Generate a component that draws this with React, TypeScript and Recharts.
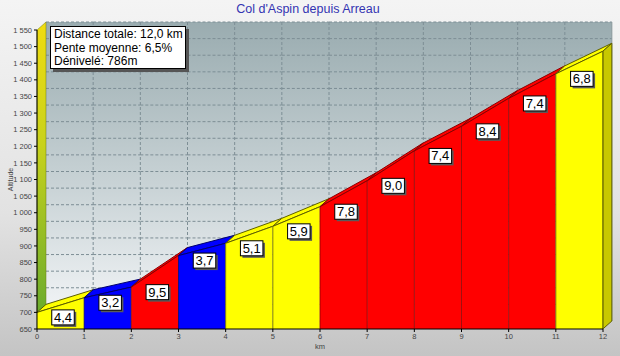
import React from "react";
import { ComposedChart, Bar, XAxis, YAxis } from "recharts";

const chartTitle = "Col d'Aspin depuis Arreau";
const summaryLines = ["Distance totale: 12,0 km", "Pente moyenne: 6,5%", "Dénivelé: 786m"];

const kmMarks = [0, 1, 2, 3, 4, 5, 6, 7, 8, 9, 10, 11, 12];
const altitudes = [700, 744, 776, 871, 908, 959, 1018, 1096, 1186, 1260, 1344, 1418, 1486];
const grades = [4.4, 3.2, 9.5, 3.7, 5.1, 5.9, 7.8, 9.0, 7.4, 8.4, 7.4, 6.8];
const altTicks = [650, 700, 750, 800, 850, 900, 950, 1000, 1050, 1100, 1150, 1200, 1250, 1300, 1350, 1400, 1450, 1500, 1550];

const segments = grades.map((g, i) => ({
  mid: (kmMarks[i] + kmMarks[i + 1]) / 2,
  start: altitudes[i],
  end: altitudes[i + 1],
  grade: g,
}));

// 3D depth of the profile (pixels)
const DX = 9;
const DY = -8;
const FONT = "'Liberation Sans', Arial, sans-serif";

const colorOf = (g: number) =>
  g < 4 ? { fill: "#0000ff", dark: "#00006e" } : g < 7 ? { fill: "#ffff00", dark: "#5e5e00" } : { fill: "#ff0000", dark: "#8a0000" };

const fmtAlt = (v: number) => (v >= 1000 ? `${Math.floor(v / 1000)}\u00a0${String(v % 1000).padStart(3, "0")}` : String(v));
const fmtGrade = (g: number) => g.toFixed(1).replace(".", ",");

const AltTick = (props: any) => {
  const { x, y, payload } = props;
  return (
    <text x={x} y={y} dy="0.35em" textAnchor="end" fontSize={7.5} fill="#444" fontFamily={FONT}>
      {fmtAlt(payload.value)}
    </text>
  );
};

const BackWall = (props: any) => {
  const { x, y, width, height } = props;
  const index = props.index ?? segments.indexOf(props.payload);
  const last = index === segments.length - 1;
  const bx = x + DX;
  const by = y + DY;
  const lo = altTicks[0];
  const hi = altTicks[altTicks.length - 1];
  return (
    <g>
      <rect x={bx} y={by} width={width + (last ? 0 : 1)} height={height} fill="url(#wallGrad)" />
      {altTicks.map((v) => {
        const gy = by + height * (1 - (v - lo) / (hi - lo));
        return <line key={v} x1={bx} x2={bx + width} y1={gy} y2={gy} stroke="#7d8e95" strokeDasharray="3 2" strokeWidth={1} />;
      })}
      {index > 0 && <line x1={bx} x2={bx} y1={by} y2={by + height} stroke="#7d8e95" strokeDasharray="3 2" strokeWidth={1} />}
      {last && <line x1={bx + width} x2={bx + width} y1={by} y2={by + height} stroke="#8a989c" strokeWidth={1} />}
      {index === 0 && (
        <polygon
          points={`${x},${y + height} ${x},${y} ${bx},${by} ${bx},${by + height}`}
          fill="url(#sideGrad)"
          stroke="#6a7a10"
          strokeWidth={0.5}
        />
      )}
    </g>
  );
};

const Segment = (props: any) => {
  const { x, y, width, height, payload } = props;
  const index = props.index ?? segments.indexOf(payload);
  const last = index === segments.length - 1;
  const lo = altTicks[0];
  const base = y + height;
  const k = height / (payload.end - lo);
  const ys = base - (payload.start - lo) * k;
  const ye = y;
  const c = colorOf(payload.grade);
  const label = fmtGrade(payload.grade);
  const tw = label.length === 3 ? 18.5 : label.length * 6.5;
  const bw = tw + 4;
  const bh = 15;
  const cx = x + width / 2 + 2.5;
  const top = ys - 2.5;
  return (
    <g>
      <polygon
        points={`${x},${ys} ${x + width},${ye} ${x + width + DX},${ye + DY} ${x + DX},${ys + DY}`}
        fill={c.fill}
        stroke={c.dark}
        strokeWidth={1}
      />
      {last && (
        <polygon
          points={`${x + width},${base} ${x + width},${ye} ${x + width + DX},${ye + DY} ${x + width + DX},${base + DY}`}
          fill="#c8c800"
          stroke={c.dark}
          strokeWidth={1}
        />
      )}
      <polygon points={`${x},${base} ${x},${ys} ${x + width},${ye} ${x + width},${base}`} fill={c.fill} />
      <line x1={x} y1={ys} x2={x + width} y2={ye} stroke={c.dark} strokeWidth={1} />
      {index > 0 && <line x1={x} y1={ys} x2={x} y2={base} stroke={c.dark} strokeWidth={0.8} />}
      {last && <line x1={x + width} y1={ye} x2={x + width} y2={base} stroke={c.dark} strokeWidth={1} />}
      <rect x={cx - bw / 2 + 2} y={top + 2} width={bw} height={bh} fill="#5a5a5a" />
      <rect x={cx - bw / 2} y={top} width={bw} height={bh} fill="#ffffff" stroke="#000" strokeWidth={1} />
      <text x={cx} y={top + 12} textAnchor="middle" fontFamily={FONT} fontSize={13} fill="#000">
        {label}
      </text>
    </g>
  );
};

export default function App() {
  return (
    <div
      style={{
        position: "absolute",
        left: 0,
        top: 0,
        width: 620,
        height: 356,
        background: "linear-gradient(to bottom, #f4f4f4 0%, #e2e2e2 60%, #c4c4c4 100%)",
        overflow: "hidden",
      }}
    >
      <div
        style={{
          position: "absolute",
          left: 0,
          top: 2,
          width: 616,
          textAlign: "center",
          fontFamily: FONT,
          fontSize: 12.5,
          color: "#3434b2",
        }}
      >
        {chartTitle}
      </div>
      <ComposedChart
        width={620}
        height={356}
        data={segments}
        margin={{ top: 30, right: 17, bottom: 7, left: 7 }}
        barCategoryGap={0}
        barGap={0}
      >
        <defs>
          <linearGradient id="wallGrad" x1="0" y1="0" x2="0" y2="1">
            <stop offset="0%" stopColor="#9aacb0" />
            <stop offset="55%" stopColor="#c9d3d6" />
            <stop offset="100%" stopColor="#f4f6f8" />
          </linearGradient>
          <linearGradient id="sideGrad" x1="0" y1="0" x2="0" y2="1">
            <stop offset="0%" stopColor="#f0dc10" />
            <stop offset="40%" stopColor="#c8d21c" />
            <stop offset="100%" stopColor="#62a82e" />
          </linearGradient>
        </defs>
        <Bar
          dataKey="end"
          isAnimationActive={false}
          background={BackWall}
          shape={Segment}
        />
        <XAxis
          dataKey="mid"
          type="number"
          domain={[kmMarks[0], kmMarks[kmMarks.length - 1]]}
          ticks={kmMarks}
          interval={0}
          height={20}
          stroke="#000"
          tickSize={3}
          tickMargin={2}
          tick={{ fontSize: 7.5, fill: "#444", fontFamily: FONT }}
          label={{ value: "km", position: "insideBottom", offset: 0, fontSize: 7.5, fill: "#444", fontFamily: FONT }}
        />
        <YAxis
          type="number"
          domain={[altTicks[0], altTicks[altTicks.length - 1]]}
          ticks={altTicks}
          interval={0}
          width={30}
          stroke="#000"
          tickSize={3}
          tickMargin={2}
          tick={<AltTick />}
          label={{
            content: (p: any) => {
              const vb = p.viewBox || {};
              const lx = (vb.x ?? 7) + 3;
              const ly = (vb.y ?? 30) + (vb.height ?? 299) / 2;
              return (
                <text x={lx} y={ly} transform={`rotate(-90 ${lx} ${ly})`} textAnchor="middle" dominantBaseline="central" fontSize={7} fill="#444" fontFamily={FONT}>
                  Altitude
                </text>
              );
            },
          }}
        />
      </ComposedChart>
      <div
        style={{
          position: "absolute",
          left: 50,
          top: 26,
          width: 136,
          height: 43,
          boxSizing: "border-box",
          border: "1px solid #000",
          background: "#fff",
          boxShadow: "3px 3px 0 #555",
          fontFamily: FONT,
          fontSize: 12,
          lineHeight: "13.5px",
          padding: "1px 0 0 3px",
          color: "#000",
          whiteSpace: "nowrap",
        }}
      >
        {summaryLines.map((s) => (
          <div key={s}>{s}</div>
        ))}
      </div>
    </div>
  );
}
